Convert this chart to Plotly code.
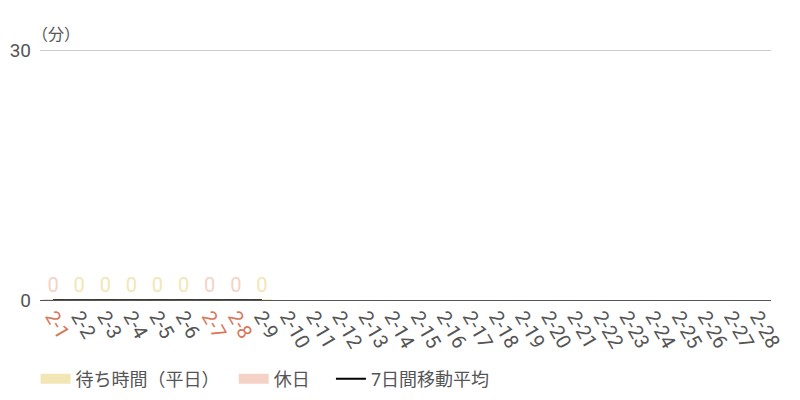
import plotly.graph_objects as go

# data
dates = ['2-%d' % d for d in range(1, 29)]
wait_weekday = [None, 0, 0, 0, 0, 0, None, None, 0] + [None] * 19
wait_holiday = [0, None, None, None, None, None, 0, 0, None] + [None] * 19
moving_avg = [0, 0, 0, 0, 0, 0, 0, 0, 0] + [None] * 19
holidays = ['2-1', '2-7', '2-8']

yellow = '#f2e6b5'
pink = '#f4d2c6'
red = '#d9765a'
gray = '#555555'

fig = go.Figure()
fig.add_trace(go.Bar(
    x=dates, y=wait_weekday, name='待ち時間（平日）', showlegend=False,
    marker=dict(color=yellow, line=dict(color=yellow, width=1)),
    text=[None if v is None else str(v) for v in wait_weekday],
    textposition='outside', cliponaxis=False,
    textfont=dict(color=yellow, size=20),
))
fig.add_trace(go.Bar(
    x=dates, y=wait_holiday, name='休日', showlegend=False,
    marker=dict(color=pink, line=dict(color=pink, width=1)),
    text=[None if v is None else str(v) for v in wait_holiday],
    textposition='outside', cliponaxis=False,
    textfont=dict(color=pink, size=20),
))
fig.add_trace(go.Scatter(
    x=dates, y=moving_avg, name='7日間移動平均', mode='lines', showlegend=False,
    line=dict(color='black', width=1.5),
))

# legend entries with wide swatches, one legend each so they can be spaced
legend_items = [('待ち時間（平日）', yellow, 15, 'legend'),
                ('休日', pink, 15, 'legend2'),
                ('7日間移動平均', 'black', 2, 'legend3')]
for name, color, w, lg in legend_items:
    fig.add_trace(go.Scatter(x=[None], y=[None], mode='lines', name=name, legend=lg,
                             line=dict(color=color, width=w)))

ticktext = ['<span style="color:%s">%s</span>' % (red if d in holidays else gray, d) for d in dates]

legend_style = dict(orientation='h', xanchor='left', y=-0.31, yanchor='middle',
                    font=dict(size=18, color=gray), bgcolor='rgba(0,0,0,0)')

fig.update_layout(
    width=800, height=400,
    margin=dict(l=32, r=37, t=37, b=108, autoexpand=False),
    plot_bgcolor='white', paper_bgcolor='white',
    barmode='overlay', bargap=0.22,
    font=dict(family='Roboto, Noto Sans CJK JP', color=gray, size=16),
    showlegend=True,
    legend=dict(x=-0.006, **legend_style),
    legend2=dict(x=0.265, **legend_style),
    legend3=dict(x=0.398, **legend_style),
    xaxis=dict(tickmode='array', tickvals=dates, ticktext=ticktext, tickangle=60,
               tickfont=dict(size=20), showgrid=False, showline=False, automargin=False),
    yaxis=dict(range=[0, 30.6], tickvals=[0, 30], showgrid=True, gridcolor='#cccccc',
               zeroline=True, zerolinecolor='#555555', zerolinewidth=1,
               tickfont=dict(size=19), ticks='', showline=False, automargin=False,
               ticklabelstandoff=8),
    annotations=[dict(text='（分）', x=0, xref='paper', y=30, yref='y',
                      xanchor='left', yanchor='bottom', showarrow=False,
                      font=dict(size=16, color=gray), yshift=4, xshift=-10)],
)

fig.write_html('out.html')
